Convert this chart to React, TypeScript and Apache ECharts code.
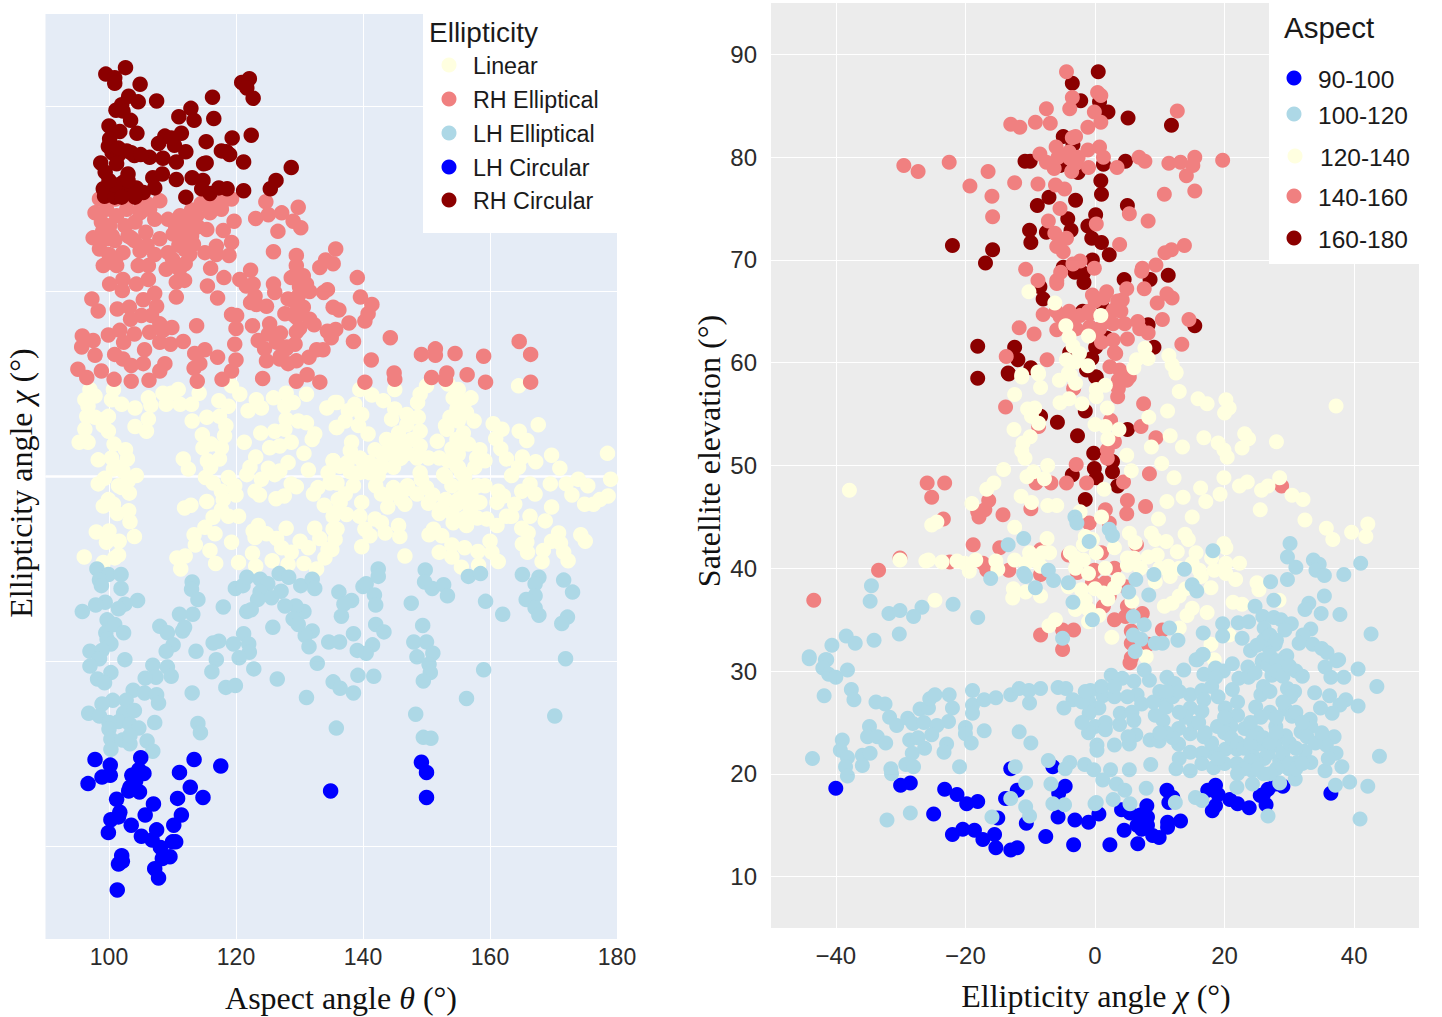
import React, { useEffect, useRef } from "react";
import * as echarts from "echarts";

const LEFT_X_TICKS = [100, 120, 140, 160, 180];
const LEFT_Y_TICKS = [-40, -20, 0, 20, 40];
const RIGHT_X_TICKS = [-40, -20, 0, 20, 40];
const RIGHT_Y_TICKS = [10, 20, 30, 40, 50, 60, 70, 80, 90];
const ELLIPTICITY_NAMES = ["Linear", "RH Elliptical", "LH Elliptical", "LH Circular", "RH Circular"];
const ASPECT_NAMES = ["90-100", "100-120", "120-140", "140-160", "160-180"];
const ZERO_LINE = [[90, 0], [180, 0]];

const leftLinear = [[97,9.4],[97.8,8.7],[96.2,8.3],[96.7,7.6],[96.5,6.5],[97.8,6.4],[99.3,6.2],[99.9,6.5],[96.2,5.1],[99.1,5.5],[99.9,4.9],[95.3,3.7],[96.7,3.7],[100.7,9.4],[100.4,8.3],[102,7.8],[104.1,7.4],[106.2,8.5],[106.6,7.7],[106.2,6.2],[104.1,5.4],[105.9,4.9],[108.5,9],[109,7.8],[110.9,9.4],[109.8,9],[111.2,7.8],[113,7.8],[114.2,9],[113.1,6],[115.4,6.4],[117.3,8.2],[118.8,7.6],[119.3,9.8],[120.6,8.9],[121.9,7.1],[123.2,8.3],[124,7.4],[125.9,8.5],[127.9,9],[127.7,7.6],[129,8],[131.1,8.9],[117.4,6.5],[118.4,5.5],[118.2,4.4],[114.7,4.5],[116.1,3.5],[114.8,3.1],[117.7,3.1],[121.3,3.7],[123.9,4.7],[126.1,4.9],[127.9,6.2],[129.8,6],[131.1,5.8],[127.7,5.1],[125.3,3.1],[126.9,3.3],[128.7,3.7],[132.4,4.6],[132,4],[134.3,7.4],[135.6,8],[135.8,5.3],[130.7,2.5],[100.8,3.5],[102.6,2.9],[98.3,1.8],[100.4,2],[102.9,1.9],[111.7,1.9],[112.5,0.8],[115.5,1.7],[117.4,1.9],[123.1,2.1],[128.2,1.5],[122.2,1],[121.7,0.2],[125.1,0.9],[126.9,0.6],[131.4,0.7],[135.3,1.7],[134.5,0.4],[100.7,0.8],[102.2,0.6],[104.3,0.1],[99.3,-0.2],[98.3,-0.8],[102,-1.2],[103.2,-1.8],[115.2,-0.1],[116.4,-0.7],[117.7,-1.6],[118.8,-0.1],[119.8,-1],[124,-0.3],[123,-1.6],[123.7,-2],[126.1,0.2],[128.7,-0.8],[129.5,-1.1],[126.3,-2.4],[127.6,-2.1],[132.2,-1.9],[132.9,-1.2],[134.8,-0.7],[136.1,-2.5],[133.9,-3.1],[135.3,-4.3],[99.9,-2.5],[99.1,-3.2],[100.7,-3],[101.3,-4],[103.1,-3.7],[103.3,-4.9],[111.9,-3.4],[112.9,-3.1],[115.4,-2.7],[117.7,-3.6],[116.4,-4.4],[118.8,-4.3],[120.4,-4.3],[115.1,-5.5],[116.7,-6.2],[113.4,-6.3],[113.6,-7.4],[98,-6],[100,-5.9],[99.6,-7.1],[101.6,-7],[104,-6.5],[119.3,-7.1],[122.7,-5.9],[123.5,-5.3],[123,-6.6],[124.8,-6.2],[126.4,-6.7],[127.9,-5.6],[132.4,-5.6],[133.2,-6.7],[130.1,-7],[131.4,-7.7],[127.2,-7.7],[128.7,-8.2],[122.6,-8.3],[115.9,-8],[112,-8.6],[110.7,-8.8],[111.3,-10],[116.8,-9.4],[120.4,-9.3],[123.1,-9.7],[125.7,-9.1],[128.2,-9.5],[130.7,-9.4],[132.7,-10],[134,-8.8],[134.5,-7.9],[135.3,-5.7],[135.6,-6.8],[96.1,-8.7],[99.1,-9.3],[100.9,-8.8],[101.5,-8.5],
[139.5,9.4],[141.4,8.8],[143.2,8.2],[145,9.4],[135.9,8],[138.7,7.8],[137.7,7.1],[139.8,6.7],[137.2,6],[135.9,5.3],[139.3,5.5],[140.8,4.6],[138.2,3.7],[138,2.8],[145,7.3],[146.9,6.7],[148.7,6.4],[144.5,6.2],[146.9,5.6],[149,8.9],[150,9.8],[148.6,8],[153.4,10],[155,9.4],[154.2,8.5],[157,8.5],[154.8,7.3],[156.3,6.9],[153.7,6.4],[157.5,6],[153.2,5.1],[155.8,4.7],[154.8,4],[156.6,3.5],[151.7,3.8],[149,4.9],[147.7,4],[145.6,4.7],[143.7,4],[141.9,2.9],[144.8,3.3],[146.1,3.7],[149,3.3],[150.3,2],[148.5,2],[145.6,1.9],[142.9,1.3],[139.5,2],[140.3,1.1],[136.4,1.1],[135.3,1.7],[139.3,0.4],[141.1,0.4],[142.4,0.1],[144.8,1],[149,0.4],[149.2,-0.3],[152.7,0.2],[154.8,1.1],[153.4,1.7],[155,2.4],[158.4,2.9],[157.9,2],[159.2,1.7],[157.6,1],[155.5,0.4],[164.5,9.8],[167.6,5.6],[160.5,5.7],[161.9,5.1],[164.6,4.9],[165.8,3.9],[160.9,4.1],[161.7,3],[162.6,1.9],[165.1,2.1],[167.2,1.6],[163.4,0.1],[164.5,1],[169.7,2.3],[171,0.9],[173.9,-0.3],[175.4,-1],[178.5,2.5],[179,-0.3],[172.9,-2],[178.6,-2.1],[177.3,-2.5],[176.3,-3],[174.9,-3],[172,-0.8],[169.5,-0.8],[166.3,-0.8],[165,-1.6],[167.1,-1.9],[169.7,-3.3],[166.3,-4.3],[168.7,-4.8],[162.6,-4.3],[163.9,-3],[161.1,-2.8],[162.1,-2.1],[161.3,-1.6],[163.4,-4.3],[159.2,-1],[156.9,-1.2],[158.4,-2.8],[155.8,-2.1],[156.9,-3.5],[154.8,-3],[152.4,-3.4],[150.3,-2.9],[150,-1.2],[147.1,-1.3],[144.8,-1.2],[142.9,-1.9],[143.9,-3.3],[146.6,-3],[148.5,-1.9],[139.8,-2.8],[138.5,-1],[137.2,-1.9],[135.9,-0.7],[136.4,-2.8],[135.6,-3.9],[137.4,-4.1],[139.5,-4.3],[140.3,-5.7],[141.9,-4.6],[142.9,-5],[143.5,-6.1],[141.1,-6.4],[145.6,-5.3],[145.8,-6.5],[139.8,-7.6],[146.6,-8.6],[135.9,-5.7],[135.1,-7.9],[161.1,-5.3],[159.5,-4.6],[156.3,-5.3],[154.2,-5],[151.1,-5.7],[150.4,-6.3],[152.4,-6.4],[154,-7.4],[152,-8.2],[154,-8.7],[156,-7.7],[158.1,-8.1],[160,-7],[160.3,-8.2],[161.3,-9.2],[155.5,-9.8],[158.2,-9.6],[165,-5.6],[166,-6.1],[165.8,-7.1],[165.1,-7.3],[165.9,-8.2],[168.4,-8],[168.2,-9.2],[169.7,-7],[170.8,-6.1],[171.1,-7.2],[171.6,-8.2],[172.3,-9.1],[174.3,-6.3],[175,-7],
[152,2],[153,0],[154,-1],[155,-2.5],[156,-1],[157,-2],[155,1],[156,0],[157,-4],[158,-1],[154,-4],[156,-4.5],[158,-4.5],[153,5.5],[155,6],[156,8],[154,3],[155,3],[152,-4],[153,-2.5],[151,-2],[141,1.5],[142,0.5],[143,1],[144,2.5],[145,2.5],[146,2],[147,2.5],[143,2.5],[142,-1],[144,-2],[145,-1.5],[146,-2.5],[147,-1],[140,0.5],[138,0.5],[137.5,1.5],[103,-0.5],[101.5,1],[101.5,-1],[120,-2],[118,-2.5],[116,1]];

const leftRhElliptical = [[98.5,30],[97.8,28.5],[98.8,27.5],[100.1,27.1],[97.5,25.8],[98.5,24.6],[99.6,25.7],[100.9,25.5],[102.2,24.2],[99.1,22.8],[101.2,22.8],[100.1,20.8],[102.2,21.3],[102.1,20.1],[104.9,24.4],[103.5,25.8],[105.8,26.4],[108,25.7],[107.2,24],[109.3,24.2],[109,22.4],[111.1,22.4],[104.6,22.8],[106.2,22.8],[104.3,20.8],[106.2,21.3],[110.6,21],[111.9,21.2],[110.6,19.4],[107.2,19.8],[105.4,19.1],[107.5,18.4],[97.3,19.2],[98.3,17.9],[101.3,18.1],[103.2,18.3],[103.4,17],[105.1,17.4],[106.7,17.4],[108,16.5],[109.9,16.1],[113.8,16.3],[99.9,15.3],[101.7,15.8],[104,15.4],[106.4,15.6],[108.5,15.8],[102.3,14.5],[108,14.5],[109.7,14.3],[111.7,14.6],[95.8,15.2],[95.7,14],[97.5,14.7],[97.8,13.1],[100.9,13.2],[102.2,12.7],[105.6,13.7],[103.5,12],[105.4,12.2],[95.1,11.6],[96.5,10.7],[98.8,11.4],[100.8,10.5],[103.5,10.3],[106.3,10.4],[108,11.4],[108.8,12.2],[113.5,13.3],[115.1,13.7],[117.1,12.9],[114.3,12.2],[113.4,11.7],[113.9,10.3],[119.8,14.3],[120,12.6],[119.3,11.4],[117.8,10.5],[124.2,10.6],[129.5,10.3],[131.2,11],[133.2,10.2],[140.3,10.2],[141.3,12.6],[131.5,12.9],[132.7,13.7],[133.7,13.7],[138.5,14.6],[135,15],[134.4,15.7],[135.7,15.9],[137.8,16.6],[140.3,16.8],[140.8,17.6],[141.4,18.6],[135.3,18.3],[136.2,18],[133.8,19.9],[134.4,20.2],[139.6,19.4],[139.1,21.5],[135.3,23],[134.1,23.4],[133.2,22.6],[135.7,24.6],[129.5,23.9],[129.5,22.8],[128.7,21.5],[130.6,21.7],[131.1,20.8],[131.6,20],[128.2,19.2],[129.8,19.5],[130.6,18.3],[127.7,17.6],[129.5,17.2],[131.6,17],[132.3,16.4],[129.5,15.6],[129.3,14.3],[127.9,13.8],[126.9,12.7],[128.2,12.2],[129.5,12.5],[125.3,16.5],[125.1,15.4],[123.5,14.7],[126.4,14.5],[124.5,13.8],[124.8,12.5],[122.6,16.3],[124.8,18.4],[123.2,18.6],[122.3,18.8],[123,19.5],[122.7,20.8],[120.6,21.3],[121.6,20.6],[122.3,22.3],[118.1,21.5],[115.5,20.6],[117.1,19.3],[119.3,17.5],[120.1,17.4],[120,16],[125.9,20.8],[126.1,19.9],[125.9,24.3],[126.6,26.5],[130.2,26.9],[129,27.6],[127.2,28.5],[125.1,28.3],[123.1,27.9],[129.8,29.1],[124.7,29.7],[119.7,27.6],[116,22.5],[118.9,23.9],[116.9,24],[115.1,24.2],[112.7,24],[113.3,25.1],[111.7,25.7],[110.1,26.2],[112.5,27.1],[115.4,26.7],[118,26.6],[119.3,25.3],[116.9,24.9],[119.3,30],[117.7,28.9],[115.9,28.5],[113.8,28.2],[111.2,28.2],[109.3,27.8],[107.2,27.8],[108,29.8],[106.4,28.9],[104.9,28.5],[102.8,28.9],[102.5,27.1],[104.1,27.5],[111.9,26.4],[101.2,28.2],[99.6,28.9],
[144.3,15],[149.2,13.2],[151.4,13.8],[151.4,13.1],[154.5,13.3],[159,13],[164.6,14.6],[166.4,13.2],[144.9,11.2],[145,10.5],[150.8,10.7],[153.2,11.2],[153,10.5],[156.4,11],[159.3,10.2],[166.4,10.2],
[99,26.5],[100,24],[101,23.5],[100.5,26],[103,26],[104,25.5],[106,25],[110.5,27],[111,25],[112,24.5],[113,26],[114,27],[110,23.5],[112,27.5],[113,28.8],[114.5,29.5],[116,29.5],[118,29.8],[112,23],[105,29],[106,29.5],[101,30],[103,30],[127,13],[128,14],[129,17.5],[130,16],[127,15.5],[129,19],[130,20.5]];

const leftLhElliptical = [[98.1,-10],[99.9,-10.6],[98.5,-11.2],[101.9,-10.6],[98.8,-11.8],[101.9,-12.1],[113.1,-11.4],[113,-12.2],[114,-13.3],[119.9,-12.1],[121.1,-11.8],[121.7,-10.9],[123.8,-11.1],[125,-11.6],[123.8,-12.5],[123.4,-13.3],[125.6,-13.1],[127.1,-12.4],[126.8,-10.5],[128.3,-10.9],[130.2,-11.8],[132,-11.1],[132.4,-12.1],[136.2,-12.5],[140,-11.9],[140.5,-11.6],[141.8,-12.8],[142.4,-10],[142.4,-10.8],[149.8,-10.1],[149.7,-11.4],[150.9,-12.1],[152.7,-11.7],[153.3,-12.9],[156.6,-10.8],[158.5,-10.5],[165.1,-10.6],[167.7,-10.9],[167.1,-11.6],[167.1,-12.9],[165.7,-13.3],[167.1,-14.2],[167.7,-15],[171.6,-11.2],[173,-12.5],[159.3,-13.5],[162,-14.9],[172.2,-15.2],[171.3,-15.9],[147.6,-13.7],[138.2,-13.4],[137,-13.8],[136.6,-15.1],[142,-13.9],[142,-16],[143.3,-16.8],[138.5,-17],[141.5,-18.2],[139.1,-18.8],[140.5,-19.1],[136.3,-17.9],[134.6,-17.9],[132,-16.7],[130.9,-17.2],[131.5,-18.4],[125.8,-16.3],[130.7,-14.6],[129.4,-14],[127.7,-14],[129,-15.4],[129.8,-16],[121.7,-14.6],[122.4,-14.4],[118,-14.1],[113.2,-14.9],[111.1,-14.9],[104.5,-13.4],[102.5,-13.8],[101.5,-14.3],[99.4,-13.6],[97.9,-13.9],[95.8,-14.6],[99.7,-15.5],[100.9,-16],[99.5,-16.9],[102.3,-16.9],[99.7,-17.6],[100.3,-18.1],[108,-16.2],[109.2,-16.9],[111.6,-16.7],[111.9,-16.3],[110.1,-18.2],[109,-18.9],[113.7,-18.9],[117.3,-17.8],[116.4,-18],[119.6,-18.1],[121.2,-17],[122,-18.1],[122.1,-19],[120.5,-19.6],[116.9,-19.8],[116.2,-21.1],[122.8,-20.8],[126.5,-21.9],[118.4,-22.8],[119.9,-22.6],[113.1,-23.4],[132.8,-20.2],[135.3,-22.2],[136.4,-22.9],[138.5,-23.4],[139.2,-21.5],[141.7,-21.6],[131.1,-23.9],[149.4,-16.1],[148,-17.9],[150,-17.9],[151,-19.1],[148.5,-19.5],[150.4,-20.3],[150.6,-21.2],[149.5,-22.1],[148.3,-25.7],[159,-20.9],[156.3,-24],[171.9,-19.7],[170.2,-25.9],[149.5,-28.2],[150.7,-28.3],[135.8,-27.2],[97,-18.9],[98.9,-18.8],[98.5,-19.7],[102.5,-19.8],[97,-20.5],[100.3,-21.2],[98.2,-21.9],[99.3,-22.3],[106.9,-20.4],[109.2,-20.6],[109.8,-21.6],[107.4,-21.7],[105.7,-21.8],[103.8,-23.1],[105.6,-23.4],[107.5,-23.6],[107.8,-24.5],[102.7,-24.2],[100.6,-24.2],[98.9,-24.6],[96.8,-25.6],[98.5,-25.9],[102.3,-25.6],[104,-25.3],[101.5,-26.5],[103.3,-26.8],[100,-26.6],[100,-27.3],[104.7,-27.2],[107.2,-26.6],[114,-26.7],[114.4,-27.7],[100.3,-28.4],[102.1,-28.5],[103.3,-28.9],[100.3,-29.5],[106,-28.6],[106.9,-29.7],[103.3,-28]];

const leftLhCircular = [[97.8,-30.6],[100.2,-31.2],[105,-30.4],[113.4,-30.6],[117.6,-31.3],[96.7,-33.2],[98.9,-32.5],[100.2,-32.3],[111.1,-32],[103.6,-32.3],[104.7,-31.7],[105.5,-32.1],[104.2,-32.9],[103.3,-33.6],[104.8,-34.1],[103.1,-34],[112.8,-33.6],[114.8,-34.7],[110.8,-34.8],[101.2,-34.9],[107,-35.4],[101.7,-36.3],[101.5,-36.8],[100.3,-37.1],[105.7,-36.6],[111.4,-36.6],[110.2,-37.7],[103.5,-37.7],[99.9,-38.5],[107.5,-38.2],[105.1,-38.9],[106.8,-39.3],[108.1,-40.1],[110,-39.5],[110.5,-39.5],[109.6,-41.1],[108.4,-41.3],[102,-41],[102.1,-41.6],[101.5,-41.9],[107.2,-42.4],[107.8,-43.4],[101.3,-44.7],[134.9,-34],[149.2,-30.9],[150,-32],[150,-34.7]];

const leftRhCircular = [[102.6,44.2],[99.5,43.5],[100.9,43.1],[100.9,42.5],[104.9,42.4],[103.1,41.1],[102,40.2],[104.6,40.5],[107.5,40.6],[101.1,39.6],[102.2,39.5],[103.4,38.5],[100,37.9],[101.7,37.3],[104.4,37.1],[100.1,36.5],[99.9,35.7],[100.5,35],[102.8,35.2],[101.4,34.7],[104,34.7],[106.4,34.5],[108.5,34.4],[110.6,34],[98.7,33.9],[99.4,32.9],[101.2,33.8],[103,32.7],[106.9,32.3],[108.4,32.7],[110.6,32.1],[107.2,31.2],[113.1,32.3],[114.8,32],[114.6,31.1],[115.9,30.6],[117.3,31.2],[118.6,31.1],[121.2,30.9],[125.4,31.1],[126.3,32],[128.7,33.4],[121.2,34],[114.9,33.8],[115.3,33.9],[118.5,35.1],[117.7,35.2],[119,34.8],[112.1,35.1],[115.3,36.2],[119.4,36.6],[122.4,36.9],[111.4,37.1],[108.8,36.8],[107.8,36],[110.3,35.8],[109.8,36.6],[111,38.9],[112.9,39.8],[113.4,38.5],[116.5,38.7],[116.3,41],[120.9,42.6],[122.1,43],[121.7,42],[122.7,40.9],[99.1,31.1],[100.4,30.5],[101.7,30.7],[102.8,31.1],[104.3,31.2],[105.4,30.7],[102.2,31.8],[104.1,30.2],[112.1,30.2],[99.3,30.3],[100.9,30.2],[101,31.5],[103,32],[100,32],[104,30.5],[102,30.2],[101.5,35.5],[103.5,35],[105,34.8]];

const rightDark = [[0.5,88.3],[-3.5,87.2],[-2.2,85.5],[0.7,85.4],[2,84.4],[5.1,83.8],[11.8,83.1],[-4.9,82],[-3.4,81.2],[-10.8,79.6],[-10,79.6],[4.7,79.6],[1.3,79.3],[-5.4,79.2],[-2.6,78.5],[0.9,77.7],[1,76.4],[-7.1,76.1],[-3,75.8],[-8.9,75.3],[5,75.3],[-4.2,74],[0.1,74.4],[-1.1,73.3],[-3.7,72.9],[-10.1,72.9],[-7.5,72.7],[-9.9,71.7],[-0.5,72.1],[1,71.7],[2.2,70.5],[-22,71.4],[-15.8,71],[-16.9,69.7],[-0.4,70],[-4.9,69.3],[-3.1,68.8],[-1.8,68.7],[-1.7,67.8],[4.5,68.1],[8.5,68.1],[11.3,68.5],[-8.5,67.4],[-8,66.2],[1,65.8],[-1.9,65],[8.2,63.7],[15.4,63.6],[1.8,62.4],[-18.1,61.6],[9.1,61.5],[-12.4,61.5],[-11.9,60.3],[-9.9,59.5],[-13.4,59],[-18.1,58.5],[0.1,61.5],[-0.5,60.4],[-1.3,59.3],[0.1,58.6],[-3.9,61],[-13.3,58.9],[0.2,58.6],[-1.5,55.3],[-5.8,54.2],[-2.7,52.9],[5,53.5],[-0.2,51.2],[2.7,50.4],[-0.1,49.7],[2.7,49.4],[-3.5,49.1],[0.2,48.8],[3.5,48],[-1.5,46.7],[-8.4,54.8]];

const rightRed = [[-4.4,88.3],[-3.5,85.8],[0.4,86.3],[0.9,86],[-3.9,84.7],[-7.5,84.7],[12.7,84.5],[-0.1,84.4],[0.9,83.4],[-1.1,82.9],[-9.2,83.4],[-6.9,83.3],[-13,83.2],[-11.6,82.9],[-3.5,81.9],[-29.5,79.2],[-27.3,78.6],[-22.5,79.5],[-16.5,78.6],[-19.3,77.2],[-12.4,77.5],[-8.8,77.4],[-15.9,76.2],[-6.1,77.3],[-4.7,76.9],[-15.8,74.2],[-5.4,75],[-7.2,73.8],[0.2,73.5],[5.3,74.5],[8.2,73.8],[10.7,76.4],[15.4,76.7],[14.1,78.2],[11.4,79.4],[13.2,79.5],[15.4,80],[15.1,79.2],[19.7,79.7],[6.8,80],[7.7,79.6],[3.4,79],[0.7,81],[1.3,80],[-1.1,80.7],[-3.6,78.6],[-2.9,79.4],[-3.9,79.9],[-5.7,80],[-2.6,80],[-8.5,80.3],[-7.5,79.5],[-6.3,78.9],[-6.2,72.6],[-4.4,72.1],[-5.4,71.8],[-4.9,70.8],[-5.9,71.3],[3.8,71.5],[13.8,71.4],[11.8,71],[10.8,70.7],[9.4,69.5],[7.3,69.2],[7.2,68.9],[-0.1,69.2],[-2.3,69.9],[-3.4,69.6],[-5.3,68.8],[-5.9,68],[-5.9,67.7],[-10.7,69.1],[-8.8,68],[7.6,67.2],[4.9,67.2],[4.2,66.1],[1.8,66.9],[-0.4,66.6],[1.3,66.3],[11.1,66.7],[11.9,66.3],[9.6,65.8],[10.4,64.2],[14.5,64.2],[13.4,61.8],[-8,64.7],[-5.4,64.5],[-3.9,64.3],[-2.3,64.6],[-0.8,64.8],[2.8,65.1],[2.8,63.8],[4.6,63.8],[6.6,64],[6.9,63.3],[8.2,62.9],[5,62.3],[2.8,62.2],[0.7,63.3],[-0.8,63.5],[-2.9,63.3],[-5.9,63.2],[-11.7,63.4],[-9.4,62.8],[-13.7,60.6],[-7.4,60.3],[3.2,60.9],[2.3,59.6],[3.8,59.3],[4.9,58.3],
[-3.3,57.5],[-13.8,55.7],[7.5,56],[3.5,56.7],[3.6,58.3],[3.6,57.5],[-8.7,53.8],[2.4,54.4],[7.1,53.8],[9.4,52.7],[3,52.3],[1.9,51.5],[1.9,50.7],[-2.9,50.1],[8.4,49.2],[-25.9,48.3],[-23.2,48.3],[-25.2,46.9],[-9.1,48.3],[-6.8,48.3],[-4.4,48.3],[-1.3,48.3],[4.4,48.4],[5,46.6],[7.8,46],[4.9,45.3],[1.6,45.7],[-16.4,46.6],[-18.1,45.5],[-17,45.7],[-17.9,45],[-14.2,45.2],[-9.9,45.8],[-23.4,44.8],[-0.9,44.4],[2.2,44.4],[-18.8,42.3],[-14.7,42],[6.4,42.3],[-30.1,41],[-33.4,39.8],[-43.4,36.9],[-22.4,40.6],[-17.3,40.5],[-16.7,39.8],[-13.3,39.8],[-8.4,41.8],[-8.4,39.4],[-4.1,41.3],[1,41.5],[-0.1,39.8],[3,40],[-2.7,39.6],[-0.4,38.6],[1.6,38.6],[2.2,37.3],[1.3,36.3],[-1.5,36.4],[4.7,38.2],[5,36.3],[7.3,35.6],[3,35],[4.7,35.3],[-8.4,33.5],[-5,34],[-3.3,34],[-5,32.1],[5.6,33.9],[10.4,34],[5.6,32.7],[8.2,32.6],[5.6,31.3],[5.4,30.8],[28.8,48],[5.3,58.6],
[0,63],[1,62],[3,61],[-1,65],[0,66],[2,64],[3.5,66],[-4,65],[-6,65],[4,65],[-6,81],[-4,80.5],[-1,79],[-3,82]];

const rightCream = [[-10.2,66.9],[-6.2,65.8],[0.9,64.6],[-4.5,63.6],[-1,62.6],[-4,62.5],[-3.4,61.6],[-2.4,60.9],[-4.4,60.3],[-2.9,60.1],[-1.1,59.7],[7.7,61.4],[6.4,60.3],[8.2,60.4],[6,59.5],[11.4,60.7],[11.9,59.8],[12.5,59.1],[-8.8,59.1],[-11.3,58.8],[-4.1,59],
[-11.3,58.6],[-8.7,58.9],[-5.5,58.3],[-3.8,58.8],[-8.4,57.6],[-12.4,56.9],[-5.4,56.1],[0.2,57.4],[1.6,57.8],[0.2,56.7],[1.9,55.6],[12.5,59],[13,57.2],[15.9,56.5],[17.3,56],[20.2,56.4],[20.7,55.6],[20,55.1],[11.2,55.3],[-10.4,55.5],[-9.3,55.6],[-9.8,54.8],[-8.7,54.1],[-12.5,53.5],[1.6,53.8],[3.7,53.5],[2,52.6],[8.3,54.7],[11.6,52.9],[8.7,51.8],[13.5,51.8],[16.8,52.7],[19,52.2],[19.9,51.5],[20.4,50.8],[23.1,53.1],[23.7,52.6],[22.7,51.7],[28,52.3],[37.2,55.8],[-10,52.8],[-11.1,52.2],[-11.3,51.4],[-10.8,50.7],[-7.3,50],[4.9,51],[5.6,49.5],[10.3,50.2],[-14.1,49.6],[-9.5,49.4],[-10.5,48.9],[-7.8,48.7],[12.2,48.8],[-15.6,48.3],[-16.7,47.7],[1.4,47.7],[19.9,48.8],[16.3,47.8],[19.3,47.2],[23.5,48.4],[22.3,48],[26.7,48],[25.7,47.6],[28.5,48.8],[30.4,47.1],[32.1,46.7],[-37.9,47.6],[-19,46.3],[-11.4,47],[-9.8,46.4],[-7.3,46.1],[-5.9,46.1],[-2.3,45.5],[1,45],[11.1,46.5],[13.6,46.9],[17.1,46.5],[25.5,45.7],[15,45],[9.8,44.8],[32.4,44.7],[35.7,43.9],[36.7,42.8],[39.6,43.5],[42.1,44.3],[41.8,43.1],[-25.2,44.2],[-24.4,44.5],[-12.4,44],[-7.4,42.9],[5.3,43.4],[8.7,43.4],[9.3,42.8],[11,42.6],[13.9,43.3],[14.4,42.8],[19.9,42.4],[20.2,42],[6.2,42.5],[-1.5,43.1],[-0.4,42.8],[-10.1,41.5],[-8.1,41.5],[-7,41.5],[-3.8,41.5],[0.2,41.5],[-1.8,42.3],[-3,41],[-1.8,40.8],[5,41],[8.2,41.1],[9.6,41.3],[12.7,41.6],[15.6,41.5],[-30.1,40.8],[-26.1,40.7],[-25.7,40.8],[-23.6,40.6],[-21.3,40.7],[-20.1,40.5],[-19.4,39.7],[-18.4,40.8],[-15.3,40.7],[-15,39.9],[-12.4,40.8],[-10.7,40.5],[-9.8,40.8],[-8.4,40.2],[1.6,40],[5,40.3],[11.3,40.2],[11.6,39.2],[9.3,38.7],[16.1,39.8],[16.4,39.2],[18.4,39.8],[20.2,40.5],[22.3,40.5],[21.7,38.9],[20.2,39.5],[3.6,38.9],[3,38.1],[1.3,37.6],[-4.1,38.2],[-2.1,37.9],[-12.6,38],[-10.7,37.7],[-8.4,37.3],[-12.7,37.1],[-1.5,36.9],[-1,36],[0.6,35.4],[-1,34.8],[-6.1,35],[-7.1,34.4],[2.6,33.3],[5.7,36.8],[10.7,36.3],[11.9,36.6],[13,37.3],[15,36.1],[14.2,35.4],[17.3,35.7],[17.9,38.1],[21.3,36.7],[22.7,36.5],[25,38.6],[25.3,37.9],[28.4,36.9],[13,34.2],[17.9,32.6],[-24.7,36.9],[7.9,31.4],[18.4,31.1],[20.7,33.5],
[-3,40],[-1,39.5],[0,38],[2,37],[-3,36],[3,42],[6,41],[7,40],[10,40],[13,40],[14,38],[15,40.5],[18,41],[-4,56.5],[-3,58],[-2,56],[0,54]];

const rightBlue = [[-40,18.6],[-30,18.9],[-28.5,19.1],[-23.2,18.5],[-21.3,18],[-19.8,17.1],[-18.1,17.3],[-24.9,16.1],[-13,20.5],[-12,18.4],[-13.8,17.6],[-15,15.7],[-10.6,15.2],[-6.5,20.7],[-4.6,18.8],[-5.6,18.1],[-5.7,15.8],[-3.1,15.5],[-1,15.3],[0.6,16.1],[4.1,16.5],[5.4,16.2],[8,16.9],[8.1,15.8],[8.1,15],[7.2,14.6],[4.5,14.5],[8.9,14],[9.9,13.8],[6.6,13.2],[2.3,13.1],[-3.3,13.1],[-7.6,13.9],[-12,12.8],[-13,12.6],[-15.3,12.8],[-15.5,14.1],[-17.3,13.6],[-18.6,14.5],[-20.4,14.6],[-22,14.1],[11.1,18.4],[12,17.7],[11.2,15.3],[13.2,15.4],[11.2,14.8],[11.4,17.2],[18.6,18.9],[17.4,18.4],[18.6,16.9],[18.1,16.4],[20.8,17.5],[22,17.1],[23.8,16.7],[26.7,18.5],[25.5,17.9],[26.4,17],[29,18.8],[27.9,19],[36.4,18.1],[7,16],[6.5,15],[19,18],[26,18]];

const rightTeal = [[-3.1,45],[-2.8,44.4],[2.2,43.8],[2.7,43.2],[-0.9,42.6],[-11,42.9],[-13.4,42.3],[18.2,41.7],[30.1,42.4],[29.7,41.1],[31,40.1],[33.7,40.8],[34.6,40.4],[34.1,39.8],[35.4,39.3],[38.4,39.4],[41,40.5],[29.7,38.9],[27.1,38.7],[13.8,39.9],[9.1,39.4],[6.3,38.9],[5.2,37.7],[8.3,37.4],[-16.1,39],[-11,39.5],[-10.7,39.2],[-7.2,39.8],[-6.4,38.8],[-4.1,38.6],[-9.2,38.1],[-34.5,38.3],[-34.7,36.8],[-31.8,35.6],[-30.1,35.9],[-26.7,36.2],[-28,35.3],[-21.9,36.5],[-18.1,35.2],[-30.2,33.6],[-3.4,36.7],[-0.4,35],[-38.4,33.4],[-37,32.7],[-34.1,33],[-40.6,32.5],[-44.1,31.4],[-41.4,31.1],[5.9,35.3],[7.6,34.5],[11.5,34.2],[5.9,33.5],[7.1,33.1],[9.3,32.7],[10.4,32.7],[12.8,33],[6.2,31.9],[-5,33.2],[15,38.4],[15.7,37.8],[16.7,33.7],[19.7,34.6],[19.7,33.4],[22.1,34.7],[23.7,34.8],[22.7,33.2],[24.7,36.3],[27.6,36.9],[25.9,35.3],[27.6,35.2],[28.7,35],[30.3,34.6],[26.1,34.2],[29.3,34],[33,36.6],[32.4,36],[35.4,37.3],[34.9,35.6],[37.8,35.5],[33.3,34.1],[32.1,33.5],[31.5,32.7],[33.6,32.6],[35,32.2],[35.8,31.8],[37.6,31.1],[42.6,33.6],[26.7,32.4],[27.8,32.6],[16.7,31.6],[15.6,31.1],[25.9,31.1],[29.6,31.5],
[-44.1,31.2],[-41.6,31.1],[-42,30.3],[-41.1,29.7],[-40,29.4],[-38.2,30.1],[-41.8,27.6],[-37.6,28.2],[-37.2,27.2],[-33.8,27],[-32.4,26.8],[-31.7,25.5],[-30.6,24.7],[-28.9,25.4],[-28.1,24.9],[-27,26.3],[-25.7,26.4],[-26.4,25],[-25.5,27.3],[-24.7,27.7],[-22.5,27.7],[-22,26.4],[-22.6,25.1],[-24.4,24.7],[-25.2,23.8],[-18.9,28.1],[-18.9,26.7],[-18.9,25.9],[-17.1,27.2],[-15.3,27.4],[-13,27.7],[-11.7,28.3],[-10.2,28.1],[-8.4,28.3],[-5.7,28.4],[-4.5,28.3],[-3.4,27.2],[-4.8,26.4],[-10.1,26.9],[-20,24.5],[-20,23.9],[-19.1,23],[-17.1,24.2],[-11.7,24.1],[-9.9,23],[-34.8,24.6],[-35.1,23.6],[-33.6,23.6],[-32.3,23],[-39,23.3],[-39.3,22.3],[-38.2,21.6],[-38.5,20.7],[-38.2,19.8],[-43.6,21.5],[-35.9,21.8],[-34.7,22],[-35.9,20.8],[-31.5,20.5],[-31.4,20],[-29.2,20.9],[-28,20.7],[-28.2,22],[-26.3,22.5],[-28.6,23.3],[-27.3,23.5],[-22.9,22.9],[-23.3,22.1],[-20.9,20.7],[-0.7,28.1],[1.2,27.6],[3,27.5],[-0.9,27],[0.6,26.4],[-0.9,25.9],[0,24.6],[1.6,25],[1.6,24.3],[3.8,24.8],[3.9,25.9],[5.7,26],[6,25.2],[6.5,27.7],[7.2,26.8],[8.4,29.1],[6,29],[4.2,29.3],[2.5,29.6],[7.6,30.1],[11.1,29.4],[12.3,28.8],[13.7,30.1],[16.8,29.7],[18.6,30.3],[19.8,30],[21.2,30.7],[18.6,29.4],[15.8,31.1],[16.6,31.6],[21.2,28.2],[22.2,29.3],[23.6,30.4],[23.7,29.4],[24.7,29.8],[25.8,30.9],[26.7,30.6],[29.4,31.4],[27.3,29.6],[25.6,27.7],[29.7,28.3],[30.8,28],[30.2,27.5],[33.9,27.9],[36.2,27.6],[38.7,27.2],[37.8,26.7],[40.6,26.6],[43.5,28.5],[40.6,30.2],[38.4,29.4],[36.4,29.4],[37.3,31],[35.5,30.4],[29.4,26.3],[30.4,25.6],[24.8,26.5],[25.6,25.5],[20.1,26.4],[22,25.7],[33.2,25.3],[36.6,25.9],[34.8,26.4],[33.3,24.6],[31.8,24.1],[27.9,24.6],[29.4,23.7],[32.7,23.6],[36.9,23.6],[35.7,22.8],[37.2,22],[32.4,22.2],[31.2,21.1],[28.5,21.3],[26.1,21.5],[24.3,21.8],[21.9,22.4],[20.1,22.4],[18.9,24.6],[21,24.6],[23.1,24.4],[24.3,23.9],[26.7,22.9],[27.8,22.8],[25.5,22.9],[18.3,22],[16.5,22],[14.7,22.1],[12.9,22.9],[14.7,23.9],[12.9,24.4],[10.5,25.2],[9.3,25.7],[10.8,27.2],[14.7,27.7],[16.5,28.1],[16.8,27.2],[14.7,26.4],[16.5,26.1],[16.8,23.6],[15.3,24.9],[8.5,23.3],[9.9,23.2],[5.3,22.9],[3,22.8],[0.3,22.8],[0.3,22.3],[6.3,23.8],[5.1,23.6],[0,17.1],[-3.9,21.1],[-4.6,20.5],[-1.6,20.9],[-0.2,20.4],[2.4,20.4],[5.3,20.4],[8.6,20.9],[1.2,19.4],[3.3,19],[4.6,18.4],[7.9,18.6],[2.8,17.5],[5.4,17.1],[0.2,17.2],[-4.7,17],[-6.5,17.1],[-6.8,19],[-7.2,21.3],[-12.3,20.7],[-10.7,19.1],[-13,17.6],[-10.7,16.8],[-10.1,15.9],[-15.9,15.8],[-28.5,16.2],[-32.1,15.5],[14.7,20.3],[16.5,21],[18.3,20.6],[21.9,21],[24.3,20.3],[21.9,18.7],[24.3,19],[28.5,19.1],[30.9,19.5],[29.9,20.5],[33.3,21.1],[35.5,20.3],[38.1,20.7],[37.1,18.9],[39.3,19.2],[42.1,18.8],[43.9,21.7],[15.5,17.7],[16.5,17.4],[12.4,17.2],[26.7,15.9],[40.9,15.6],[24,21.3],[26.7,22],
[20,24],[21,23.5],[22,23],[23,22.5],[24,23],[25,24],[26,23.5],[27,23],[28,24],[29,22],[30,23],[31,22.5],[30,21],[31,20.5],[32,21],[28,20.5],[27,20],[26,20],[25,20.5],[23,20.5],[22,20],[20,21],[19,21.5],[18,23],[17,24],[16,25],[14,25.5],[13,26],[11,26.5],[12,27.5],[13,28],[26,33],[27,33.5],[28,33],[27,31.5],[28,31],[28,30],[29,29.5],[26,28.5],[27,28],[30,30.5],[31,30],[32,29.5],[24,32],[25,32.5],[18,28.5],[19,27.5],[20,25.5],[22,27],[24,25],[27,26],[28,25.5],[29,27],[31,26],[32,25],[34,23],[35,24],[36,21.5],[12,23.5],[11,24],[10,24],[13,21.5],[12.5,20.5],[-1,24],[-2,25],[-2,27],[-1.5,28],[1,28.5],[3,28.5],[5,27.5],[9,27],[10,28],[11,28]];

const SERIF = "'Liberation Serif', 'Times New Roman', serif";
const SANS = "'Liberation Sans', Arial, sans-serif";
const INK = "#2b2b2b";
const CREAM = "#FFFFE0";
const RED = "#F08080";
const TEAL = "#ADD8E6";
const BLUE = "#0000FF";
const DARK = "#8B0000";

const scatter = (name: string, data: number[][], color: string, axis: number, size: number) => ({
  type: "scatter",
  name,
  data,
  xAxisIndex: axis,
  yAxisIndex: axis,
  symbol: "circle",
  symbolSize: size,
  itemStyle: { color, opacity: 1 },
  silent: true,
});

const axisBase = (min: number, max: number, ticks: number[], gridIndex: number, fontSize: number, show: boolean, margin: number) => ({
  type: "value",
  gridIndex,
  min,
  max,
  axisLine: { show: false },
  axisTick: { show: false, customValues: ticks },
  splitLine: { show: true, lineStyle: { color: "#ffffff", width: 1 } },
  axisLabel: {
    show,
    customValues: ticks,
    color: INK,
    fontSize,
    fontFamily: SANS,
    margin,
    formatter: (v: number) => String(v).replace("-", "\u2212"),
  },
});

const title = (text: string, x: number, y: number, rotation: number) => ({
  type: "text",
  x,
  y,
  rotation,
  z: 20,
  style: {
    text,
    fontFamily: SERIF,
    fontSize: 32,
    fill: "#111111",
    align: "center",
    verticalAlign: "middle",
    rich: { i: { fontFamily: SERIF, fontStyle: "italic", fontSize: 32, fill: "#111111" }, r: { fontFamily: SERIF, fontSize: 32, fill: "#111111" } },
  },
});

const legendText = (text: string, x: number, y: number, fontSize: number) => ({
  type: "text",
  x,
  y,
  z: 22,
  style: { text, fontFamily: SANS, fontSize, fill: "#1a1a1a", align: "left", verticalAlign: "middle" },
});
const legendDot = (color: string, cx: number, cy: number) => ({
  type: "circle",
  z: 22,
  shape: { cx, cy, r: 7.5 },
  style: { fill: color },
});

export default function App() {
  const ref = useRef<HTMLDivElement>(null);
  useEffect(() => {
    if (!ref.current) return;
    const chart = echarts.init(ref.current, undefined, { renderer: "svg" });
    const leftColors = [CREAM, RED, TEAL, BLUE, DARK];
    const rightColors = [BLUE, TEAL, CREAM, RED, DARK];
    const leftRows = [65, 99, 133, 167, 200];
    const rightDots = [78, 114, 156, 196, 238];
    const rightTexts = [79, 115, 157, 197, 239];
    chart.setOption({
      animation: false,
      backgroundColor: "#ffffff",
      grid: [
        { left: 45.5, top: 14, width: 571.5, height: 925, show: true, backgroundColor: "#E5ECF6", borderWidth: 0 },
        { left: 771, top: 3, width: 648, height: 925, show: true, backgroundColor: "#ECECEC", borderWidth: 0 },
      ],
      xAxis: [
        axisBase(90, 180, LEFT_X_TICKS, 0, 23, true, 6),
        axisBase(-50, 50, RIGHT_X_TICKS, 1, 24, true, 15),
      ],
      yAxis: [
        axisBase(-50, 50, LEFT_Y_TICKS, 0, 22, false, 8),
        axisBase(5, 95, RIGHT_Y_TICKS, 1, 24, true, 14),
      ],
      series: [
        { type: "line", name: "zero", data: ZERO_LINE, xAxisIndex: 0, yAxisIndex: 0, showSymbol: false, silent: true, lineStyle: { color: "#ffffff", width: 2.5 }, z: 1 },
        scatter(ELLIPTICITY_NAMES[0], leftLinear, CREAM, 0, 15.5),
        scatter(ELLIPTICITY_NAMES[1], leftRhElliptical, RED, 0, 15.5),
        scatter(ELLIPTICITY_NAMES[2], leftLhElliptical, TEAL, 0, 15.5),
        scatter(ELLIPTICITY_NAMES[3], leftLhCircular, BLUE, 0, 15.5),
        scatter(ELLIPTICITY_NAMES[4], leftRhCircular, DARK, 0, 15.5),
        scatter(ASPECT_NAMES[4], rightDark, DARK, 1, 15),
        scatter(ASPECT_NAMES[3], rightRed, RED, 1, 15),
        scatter(ASPECT_NAMES[2], rightCream, CREAM, 1, 15),
        scatter(ASPECT_NAMES[0], rightBlue, BLUE, 1, 15),
        scatter(ASPECT_NAMES[1], rightTeal, TEAL, 1, 15),
      ],
      graphic: [
        { type: "rect", z: 21, shape: { x: 423, y: 14, width: 194, height: 219 }, style: { fill: "#ffffff" } },
        { type: "rect", z: 21, shape: { x: 1269, y: 3, width: 150, height: 261 }, style: { fill: "#ffffff" } },
        legendText("Ellipticity", 429, 32.5, 28),
        ...ELLIPTICITY_NAMES.map((n, i) => legendText(n, 473, leftRows[i] + 1, 23.3)),
        ...ELLIPTICITY_NAMES.map((_, i) => legendDot(leftColors[i], 449, leftRows[i])),
        legendText("Aspect", 1284, 27, 29.5),
        ...ASPECT_NAMES.map((n, i) => legendText(n, i === 2 ? 1320 : 1318, rightTexts[i], 24.5)),
        ...ASPECT_NAMES.map((_, i) => legendDot(rightColors[i], i === 2 ? 1295 : 1294, rightDots[i])),
        title("{r|Aspect angle }{i|\u03B8}{r| (\u00B0)}", 341, 998, 0),
        title("{r|Ellipticity angle }{i|\u03C7}{r| (\u00B0)}", 1096, 996, 0),
        title("{r|Ellipticity angle }{i|\u03C7}{r| (\u00B0)}", 21, 483, Math.PI / 2),
        title("{r|Satellite elevation (\u00B0)}", 709, 451, Math.PI / 2),
      ],
    });
    return () => chart.dispose();
  }, []);
  return <div ref={ref} style={{ position: "absolute", left: 0, top: 0, width: 1442, height: 1017 }} />;
}
